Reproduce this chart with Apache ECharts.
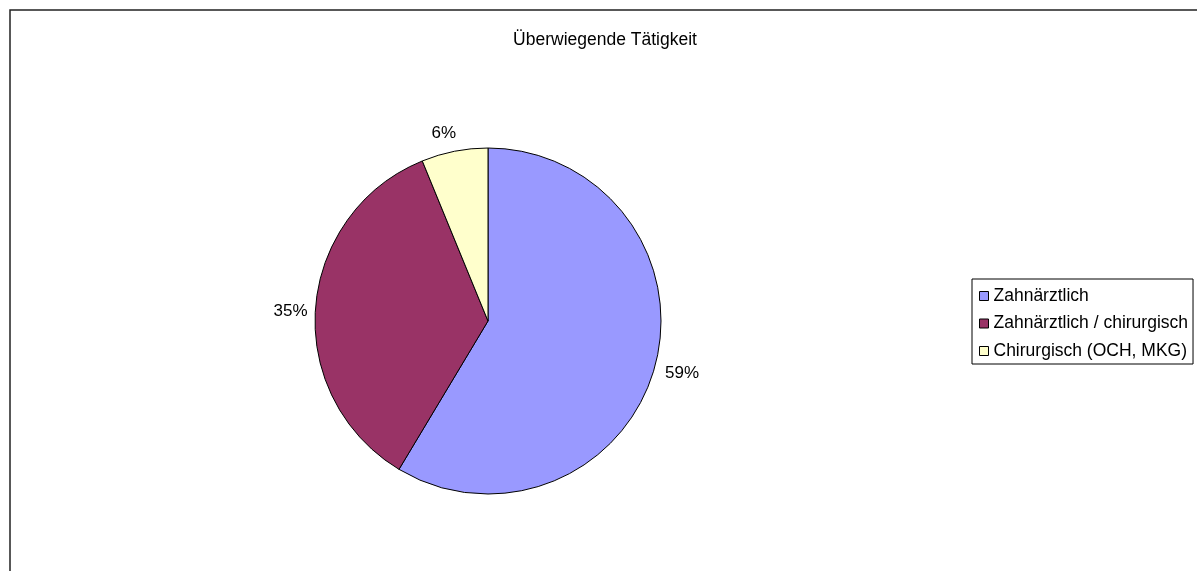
<!DOCTYPE html>
<html>
<head>
<meta charset="utf-8">
<script src="https://cdn.jsdelivr.net/npm/echarts@6/dist/echarts.min.js"></script>
<style>
html,body{margin:0;padding:0;background:#fff;}
#chart{width:1197px;height:571px;}
</style>
</head>
<body>
<div id="chart"></div>
<script>
const titleText = 'Überwiegende Tätigkeit';
const categories = ['Zahnärztlich', 'Zahnärztlich / chirurgisch', 'Chirurgisch (OCH, MKG)'];
const values = [58.6, 35.2, 6.2];
const colors = ['#9999FF', '#993366', '#FFFFCC'];
// small label nudges (style only)
const labelNudge = [[-12, 1], [15, 5], [10, 0]];

const chart = echarts.init(document.getElementById('chart'), null, {renderer: 'canvas'});
const font = 'Arial, "Liberation Sans", sans-serif';
chart.setOption({
  animation: false,
  backgroundColor: '#ffffff',
  graphic: [{
    type: 'rect',
    shape: {x: 10, y: 10, width: 1400, height: 800},
    style: {fill: 'none', stroke: '#222', lineWidth: 1.5},
    silent: true,
    z: -1
  }],
  title: {
    text: titleText,
    left: 600,
    top: 26,
    textAlign: 'center',
    textStyle: {fontFamily: font, fontSize: 17.5, fontWeight: 'normal', color: '#000'}
  },
  legend: {
    orient: 'vertical',
    left: 972,
    top: 279,
    data: categories,
    itemWidth: 9,
    itemHeight: 9,
    itemGap: 9.5,
    padding: [8, 5, 4, 7],
    borderColor: '#000',
    borderWidth: 1,
    icon: 'rect',
    itemStyle: {borderColor: '#000', borderWidth: 1},
    textStyle: {fontFamily: font, fontSize: 17.5, color: '#000'}
  },
  series: [{
    type: 'pie',
    center: [488, 321],
    radius: 173,
    startAngle: 90,
    clockwise: true,
    avoidLabelOverlap: false,
    data: categories.map((c, i) => ({name: c, value: values[i], itemStyle: {color: colors[i]}})),
    itemStyle: {borderColor: '#000', borderWidth: 1},
    label: {
      show: true,
      position: 'outside',
      formatter: p => Math.round(p.value) + '%',
      fontFamily: font,
      fontSize: 17,
      color: '#000'
    },
    labelLine: {show: false, length: 18, length2: 0},
    labelLayout: p => ({dx: labelNudge[p.dataIndex][0], dy: labelNudge[p.dataIndex][1]}),
    emphasis: {disabled: true}
  }]
});
</script>
</body>
</html>
